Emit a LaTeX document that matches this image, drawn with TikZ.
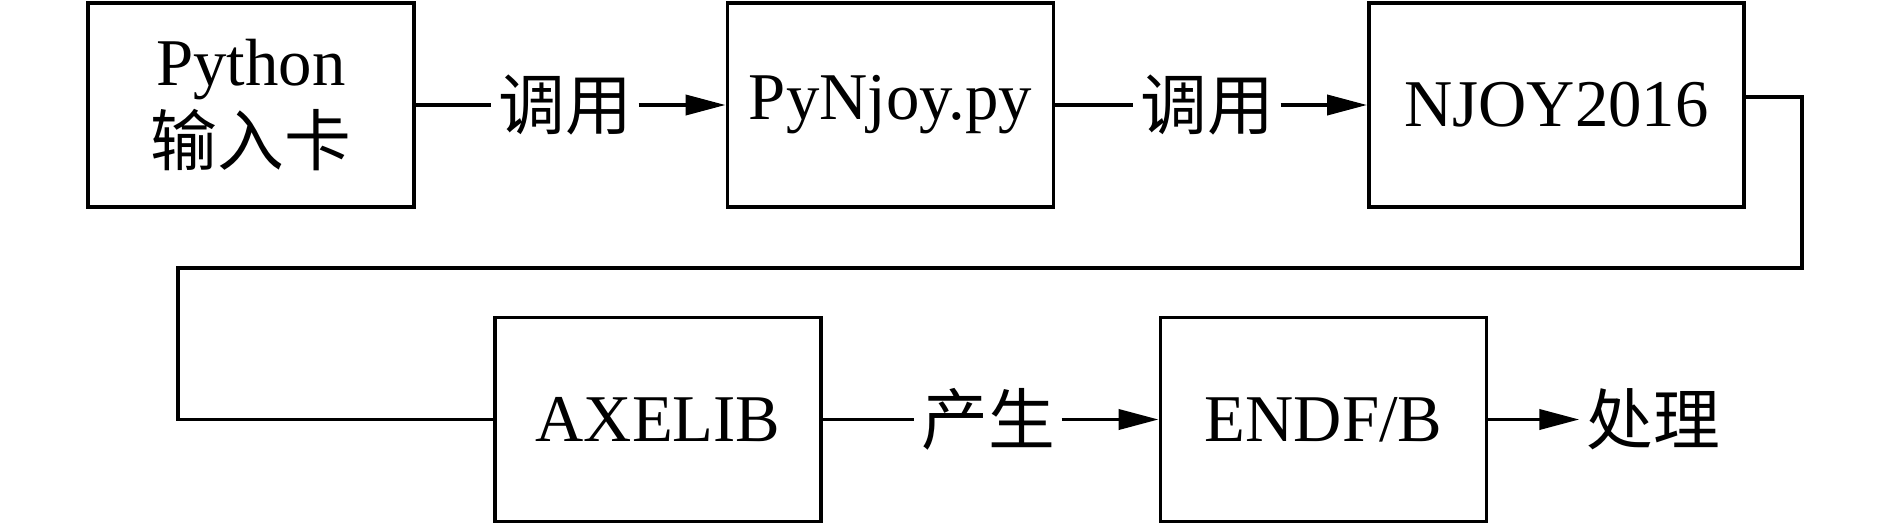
\documentclass[tikz,border=0pt]{standalone}
\usepackage{fontspec}
\setmainfont{Liberation Serif}
\newfontfamily\cjk{Noto Sans CJK SC}
\usepackage{tikz}
\usetikzlibrary{arrows.meta}

\begin{document}
\begin{tikzpicture}[line width=1.1pt,
    box/.style={draw, minimum width=3.26cm, minimum height=2.04cm, align=center},
    word/.style={inner sep=0.05cm},
    arr/.style={-{Triangle[length=4mm,width=2mm]}},
    every node/.style={font=\fontsize{19}{23}\selectfont}]
    \useasboundingbox (0,0) rectangle (18.9,-5.25);

    % Here I put the boxes of the first row
    \node[box] (python) at (2.51,-1.05) {Python\\{\cjk 输入卡}};
    \node[box] (pynjoy) at (8.905,-1.05) {PyNjoy.py};
    \node[box, minimum width=3.75cm] (njoy) at (15.565,-1.05) {NJOY2016};

    % Here is the second row
    \node[box] (axelib) at (6.58,-4.195) {AXELIB};
    \node[box] (endf) at (13.235,-4.195) {ENDF/B};

    % using node for words on the arrows
    \node[word] (call1) at (5.65,-1.05) {\cjk 调用};
    \node[word] (call2) at (12.07,-1.05) {\cjk 调用};
    \node[word] (make) at (9.88,-4.195) {\cjk 产生};
    \node[word] (treat) at (16.53,-4.195) {\cjk 处理};

    % Here are the arrows
    \draw (python.east) -- (call1.west);
    \draw[arr] (call1.east) -- (pynjoy.west);
    \draw (pynjoy.east) -- (call2.west);
    \draw[arr] (call2.east) -- (njoy.west);
    \draw (axelib.east) -- (make.west);
    \draw[arr] (make.east) -- (endf.west);
    \draw[arr] (endf.east) -- (treat.west);

    % the long line from NJOY2016 back to AXELIB
    \coordinate (turn) at (1.78,-2.68);
    \draw ([yshift=0.08cm]njoy.east) -- ++(0.56,0) |- (turn) |- (axelib.west);
\end{tikzpicture}
\end{document}
